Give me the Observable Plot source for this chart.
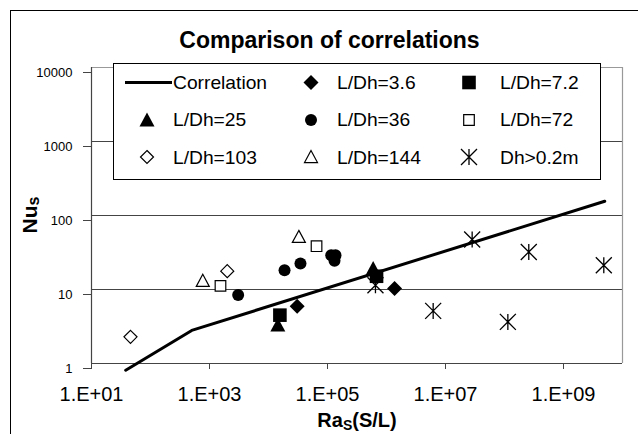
<!DOCTYPE html>
<html>
<head>
<meta charset="utf-8">
<script src="https://cdn.jsdelivr.net/npm/d3@7"></script>
<script src="https://cdn.jsdelivr.net/npm/@observablehq/plot@0.6"></script>
<style>
  html, body { margin: 0; padding: 0; background: #fff; overflow: hidden; }
  #chart { position: relative; width: 638px; height: 434px; }
  #chart svg { display: block; }
</style>
</head>
<body>
<div id="chart"></div>
<script>
// ---------------- DATA ----------------
const titleText = "Comparison of correlations";
const xTicks = [1e1, 1e3, 1e5, 1e7, 1e9];
const xTickLabels = ["1.E+01", "1.E+03", "1.E+05", "1.E+07", "1.E+09"];
const yTicks = [1, 10, 100, 1000, 10000];
const yTickLabels = ["1", "10", "100", "1000", "10000"];
const yGrid = [10, 100, 1000];

const legendLabels = ["Correlation", "L/Dh=3.6", "L/Dh=7.2",
                      "L/Dh=25", "L/Dh=36", "L/Dh=72",
                      "L/Dh=103", "L/Dh=144", "Dh>0.2m"];

const corrRa = [38, 500, 5e9];
const corrNu = [0.81, 2.8, 156];

const ld3_6Ra = [30600, 1.37e6];
const ld3_6Nu = [5.95, 10.3];

const ld7_2Ra = [15600, 678000];
const ld7_2Nu = [4.5, 15.1];

const ld25Ra = [14400, 594000];
const ld25Nu = [3.3, 19.2];

const ld36Ra = [3060, 18700, 34800, 115600, 136700, 131500];
const ld36Nu = [8.4, 18.2, 22.5, 29.1, 29.1, 24.4];

const ld72Ra = [1535, 65200];
const ld72Nu = [11.2, 38.5];

const ld103Ra = [45.8, 2000];
const ld103Nu = [2.29, 17.7];

const ld144Ra = [769, 32700];
const ld144Nu = [13.1, 51.4];

const dhRa = [6.5e5, 6.18e6, 2.83e7, 1.14e8, 2.58e8, 4.82e9];
const dhNu = [11.4, 5.14, 47.4, 3.65, 32.2, 21.3];

// ---------------- SYMBOLS ----------------
function makeSym(fn) { return { draw(c, size) { fn(c, Math.sqrt(size / Math.PI)); } }; }
const symSquare = makeSym((c, r) => { c.moveTo(-r, -r); c.lineTo(r, -r); c.lineTo(r, r); c.lineTo(-r, r); c.closePath(); });
const symDiamond = makeSym((c, r) => { c.moveTo(0, -r); c.lineTo(r, 0); c.lineTo(0, r); c.lineTo(-r, 0); c.closePath(); });
const symTriangle = makeSym((c, r) => { c.moveTo(0, -r); c.lineTo(r, r * 0.85); c.lineTo(-r, r * 0.85); c.closePath(); });
const symCircle = makeSym((c, r) => { c.moveTo(r, 0); c.arc(0, 0, r, 0, 2 * Math.PI); c.closePath(); });
const symStar = makeSym((c, r) => { c.moveTo(0, -r); c.lineTo(0, r); c.moveTo(-r, -r); c.lineTo(r, r); c.moveTo(-r, r); c.lineTo(r, -r); });

const rows = (ra, nu) => ra.map((v, i) => ({ ra: v, nu: nu[i] }));

// styles per series (in legend order, skipping the line)
const seriesDefs = [
  { data: rows(ld3_6Ra, ld3_6Nu), sym: symDiamond, r: 7.5, kind: "filled" },
  { data: rows(ld7_2Ra, ld7_2Nu), sym: symSquare, r: 6.8, kind: "filled" },
  { data: rows(ld25Ra, ld25Nu), sym: symTriangle, r: 7.5, kind: "filled" },
  { data: rows(ld36Ra, ld36Nu), sym: symCircle, r: 6, kind: "filled" },
  { data: rows(ld72Ra, ld72Nu), sym: symSquare, r: 5.3, kind: "open" },
  { data: rows(ld103Ra, ld103Nu), sym: symDiamond, r: 6.5, kind: "open" },
  { data: rows(ld144Ra, ld144Nu), sym: symTriangle, r: 6.5, kind: "open" },
  { data: rows(dhRa, dhNu), sym: symStar, r: 8, kind: "star" }
];
const styleOf = (k) => k === "filled" ? { fill: "#000", stroke: "none" }
  : k === "open" ? { fill: "#fff", stroke: "#000", strokeWidth: 1.2 }
  : { fill: "none", stroke: "#000", strokeWidth: 1.3 };

const xLabelMap = new Map(xTicks.map((d, i) => [d, xTickLabels[i]]));
const yLabelMap = new Map(yTicks.map((d, i) => [d, yTickLabels[i]]));

const chart = Plot.plot({
  width: 638,
  height: 434,
  marginLeft: 91,
  marginRight: 16,
  marginTop: 67,
  marginBottom: 71,
  style: { fontFamily: "'Liberation Sans', Arial, sans-serif", background: "#fff", color: "#000", overflow: "hidden" },
  x: { type: "log", domain: [1e1, 1e10] },
  y: { type: "log", domain: [1, 1e4] },
  marks: [
    Plot.ruleY(yGrid, { stroke: "#444", strokeWidth: 1 }),
    Plot.ruleY([1e4], { stroke: "#999", strokeWidth: 1.2 }),
    Plot.ruleX([1e10], { stroke: "#999", strokeWidth: 1.2 }),
    Plot.ruleX([1e1], { stroke: "#444", strokeWidth: 1.2 }),
    Plot.ruleY([1], { stroke: "#444", strokeWidth: 1.2 }),
    Plot.axisY({ ticks: yTicks, tickFormat: d => yLabelMap.get(d), tickSize: 8, tickPadding: 11, fontSize: 13, dy: 5, label: null, stroke: "#444" }),
    Plot.axisX({ ticks: xTicks, tickFormat: d => xLabelMap.get(d), tickSize: 6, tickPadding: 17, fontSize: 20, label: null, stroke: "#444" }),
    Plot.line(rows(corrRa, corrNu), { x: "ra", y: "nu", stroke: "#000", strokeWidth: 3 }),
    ...seriesDefs.map(s => Plot.dot(s.data, { x: "ra", y: "nu", symbol: s.sym, r: s.r, ...styleOf(s.kind) }))
  ]
});
document.getElementById("chart").appendChild(chart);

// ---------------- annotations: frame, title, axis titles, legend ----------------
const svg = d3.select(chart);
const FONT = "'Liberation Sans', Arial, sans-serif";

svg.append("rect").attr("x", 10.5).attr("y", 10.5).attr("width", 700).attr("height", 600)
  .attr("fill", "none").attr("stroke", "#000").attr("stroke-width", 1);

svg.append("text").attr("x", 329.5).attr("y", 48).attr("text-anchor", "middle")
  .attr("font-family", FONT).attr("font-weight", "bold").attr("font-size", 23).attr("fill", "#000")
  .text(titleText);

const xt = svg.append("text").attr("x", 357).attr("y", 427).attr("text-anchor", "middle")
  .attr("font-family", FONT).attr("font-weight", "bold").attr("font-size", 20).attr("fill", "#000");
xt.append("tspan").text("Ra");
xt.append("tspan").attr("font-size", 14).attr("dy", 3).text("S");
xt.append("tspan").attr("dy", -3).text("(S/L)");

const yt = svg.append("text").attr("transform", "translate(36.5,215) rotate(-90)").attr("text-anchor", "middle")
  .attr("font-family", FONT).attr("font-weight", "bold").attr("font-size", 21).attr("fill", "#000");
yt.append("tspan").text("Nu");
yt.append("tspan").attr("font-size", 16).attr("dy", 2).text("s");

// legend
const lg = svg.append("g");
lg.append("rect").attr("x", 113.5).attr("y", 63.5).attr("width", 487).attr("height", 116)
  .attr("fill", "#fff").attr("stroke", "#000").attr("stroke-width", 1);
const colSym = [147, 311, 469];
const colText = [173, 337, 500];
const rowMid = [82.5, 120, 157];
const rowBase = [88.5, 126, 163.5];
legendLabels.forEach((lab, i) => {
  const c = i % 3, r = Math.floor(i / 3);
  if (i === 0) {
    lg.append("line").attr("x1", 125).attr("x2", 172).attr("y1", rowMid[r]).attr("y2", rowMid[r])
      .attr("stroke", "#000").attr("stroke-width", 3);
  } else {
    const s = seriesDefs[i - 1];
    const p = d3.path();
    s.sym.draw(p, Math.PI * s.r * s.r);
    const st = styleOf(s.kind);
    lg.append("path").attr("d", p.toString())
      .attr("transform", `translate(${colSym[c]},${rowMid[r]})`)
      .attr("fill", st.fill).attr("stroke", st.stroke).attr("stroke-width", st.strokeWidth || 0);
  }
  lg.append("text").attr("transform", `translate(${colText[c]},${rowBase[r]}) scale(1.1,1)`)
    .attr("text-anchor", "start")
    .attr("font-family", FONT).attr("font-size", 17.5).attr("fill", "#000").text(lab);
});
</script>
</body>
</html>
